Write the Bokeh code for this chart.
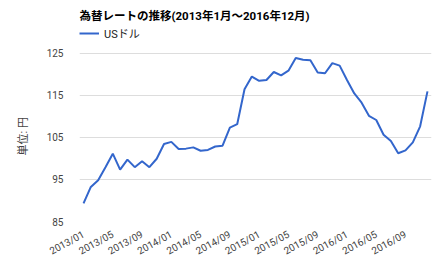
from bokeh.plotting import figure
from bokeh.models import FixedTicker, Range1d, Legend, LegendItem, Label, Title
from bokeh.embed import file_html
from bokeh.resources import INLINE

months = [f"{y}/{m:02d}" for y in range(2013, 2017) for m in range(1, 13)]
usd = [89.3, 93.2, 94.8, 97.9, 101.1, 97.3, 99.7, 97.9, 99.3, 97.9, 99.9, 103.4,
       103.9, 102.2, 102.3, 102.6, 101.8, 102.0, 102.8, 103.0, 107.3, 108.1, 116.4, 119.4,
       118.4, 118.6, 120.5, 119.7, 120.8, 123.8, 123.4, 123.3, 120.4, 120.2, 122.6, 122.0,
       118.6, 115.4, 113.2, 110.1, 109.1, 105.6, 104.1, 101.2, 101.9, 103.8, 107.6, 115.9]
tick_labels = ["2013/01", "2013/05", "2013/09", "2014/01", "2014/05", "2014/09",
               "2015/01", "2015/05", "2015/09", "2016/01", "2016/05", "2016/09"]
y_ticks = [85, 95, 105, 115, 125]
title_text = "為替レートの推移(2013年1月〜2016年12月)"
series_name = "USドル"
y_label = "単位: 円"

FONT = "Roboto, 'Noto Sans CJK JP'"
idx = list(range(len(months)))
tick_pos = [months.index(t) for t in tick_labels]

# layout: plot body from y=53 (value 125) to y=223 (value 85); frame extends to top
H, BOTTOM = 264, 41
body_top = 53
frame_h = H - BOTTOM
px_per_unit = (frame_h - body_top) / (y_ticks[-1] - y_ticks[0])
y_top = y_ticks[-1] + body_top / px_per_unit

p = figure(width=440, height=H, output_backend="svg", toolbar_location=None,
           x_range=Range1d(-0.55, len(months) - 1 + 0.55),
           y_range=Range1d(y_ticks[0], y_top),
           min_border_left=79, min_border_right=9, min_border_top=0, min_border_bottom=BOTTOM)
p.outline_line_color = None
p.background_fill_color = "white"

r = p.line(idx, usd, line_color="#3366CC", line_width=2)

p.xaxis.ticker = FixedTicker(ticks=tick_pos)
p.xaxis.major_label_overrides = {i: t for i, t in zip(tick_pos, tick_labels)}
p.xaxis.major_label_orientation = 0.5
p.yaxis.ticker = FixedTicker(ticks=y_ticks)
for ax in (p.xaxis[0], p.yaxis[0]):
    ax.axis_line_color = None
    ax.major_tick_line_color = None
    ax.minor_tick_line_color = None
    ax.major_label_text_font = FONT
    ax.major_label_text_font_size = "10px"
    ax.major_label_text_color = "#444444"
p.xaxis.major_label_standoff = 6
p.yaxis.major_label_standoff = 10

p.add_layout(Title(text=y_label, align="left", offset=66, standoff=28,
                   text_font=FONT, text_font_size="11px", text_font_style="normal",
                   text_color="#444444"), "left")

p.xgrid.grid_line_color = None
p.ygrid.ticker = FixedTicker(ticks=y_ticks)
p.ygrid.grid_line_color = "#dddddd"
p.ygrid.grid_line_width = 1

legend = Legend(items=[LegendItem(label=series_name, renderers=[r])],
                location=(0, 180), padding=0, margin=0, spacing=0,
                glyph_width=20, glyph_height=12, label_standoff=5,
                border_line_alpha=0, background_fill_alpha=0,
                label_text_font=FONT, label_text_font_size="11px",
                label_text_color="#222222", label_height=12)
p.add_layout(legend)

p.add_layout(Label(x=0, y=205.5, x_units="screen", y_units="screen", text=title_text,
                   text_font=FONT, text_font_size="11.5px", text_font_style="bold",
                   text_color="#000000", text_baseline="middle", text_align="left"))

open("out.html", "w").write(file_html(p, INLINE))
